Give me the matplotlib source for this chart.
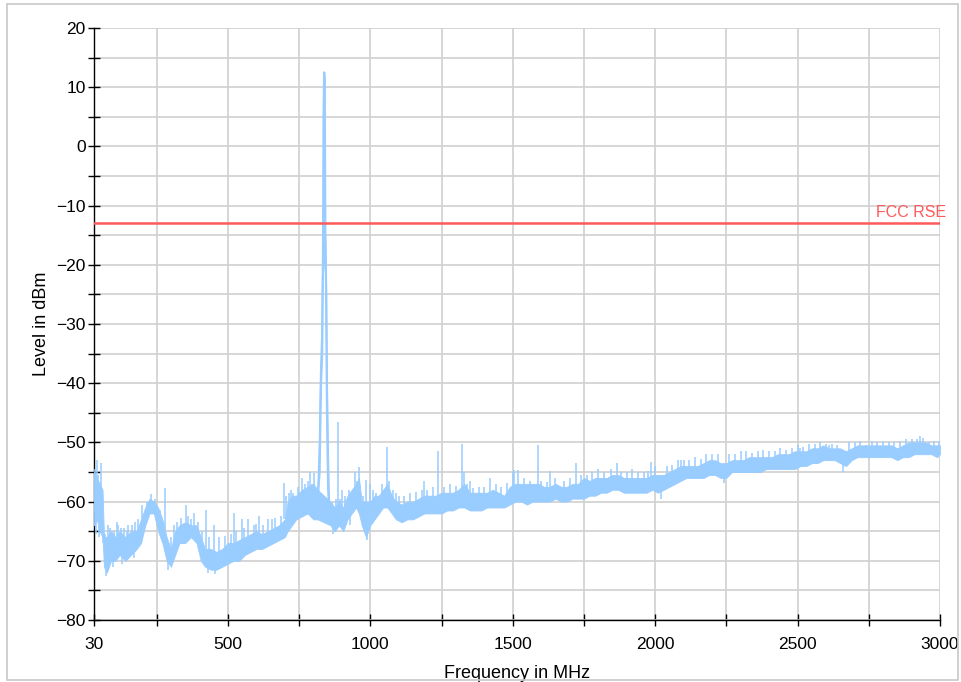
import matplotlib
matplotlib.use("Agg")
import matplotlib.pyplot as plt
from matplotlib.patches import Rectangle
from matplotlib.ticker import FixedLocator, MultipleLocator

plt.rcParams['font.family'] = ['Liberation Sans', 'DejaVu Sans']

# ---------------- data ----------------
# noise-floor band: frequency (MHz), lower and upper envelope (dBm)
band_freq = [30, 40, 50, 60, 65, 75, 90, 105, 120, 140, 160, 180, 195, 210, 225, 240,
             255, 270, 285, 300, 315, 330, 350, 370, 390, 405, 420, 440, 460, 480, 500,
             520, 540, 560, 580, 600, 620, 640, 660, 680, 700, 710, 725, 740, 760, 780,
             800, 815, 860, 875, 890, 905, 920, 935, 950, 960, 970, 985, 1000, 1015,
             1030, 1045, 1060, 1075, 1090, 1110, 1130, 1150, 1170, 1190, 1210, 1230,
             1250, 1270, 1290, 1310, 1330, 1350, 1370, 1390, 1410, 1430, 1450, 1470,
             1490, 1510, 1530, 1550, 1570, 1590, 1610, 1630, 1650, 1670, 1690, 1710,
             1730, 1750, 1770, 1790, 1810, 1830, 1850, 1870, 1890, 1910, 1930, 1950,
             1970, 1990, 2010, 2030, 2050, 2070, 2090, 2110, 2130, 2150, 2170, 2190,
             2210, 2230, 2250, 2270, 2290, 2310, 2330, 2350, 2370, 2390, 2410, 2430,
             2450, 2470, 2490, 2510, 2530, 2550, 2570, 2590, 2610, 2630, 2650, 2670,
             2690, 2710, 2730, 2750, 2770, 2790, 2810, 2830, 2850, 2870, 2890, 2910,
             2930, 2950, 2970, 2990, 3000]
band_low = [-64, -63, -65, -66, -71, -72, -70, -70, -69, -70, -69, -68, -67, -64, -62, -62,
            -65, -67, -70, -71, -69, -67, -67, -66, -67, -70, -71, -71.5, -71.5, -71, -70.5,
            -70, -70, -69, -68.5, -68, -68, -67.5, -67, -66.5, -66, -65, -64, -63, -62.5, -62,
            -63, -63, -64, -65, -64, -65, -63, -62, -61, -62, -64, -66, -64, -63,
            -62, -61, -61, -62, -63, -63.5, -63, -63, -62.5, -62, -62, -62,
            -62, -61.5, -61.5, -61, -61, -61.5, -61.5, -61.5, -61, -61, -61, -61,
            -60.5, -60, -60, -60.5, -60, -60, -60, -60, -59.5, -60, -60, -59.5,
            -59.5, -59.5, -59, -59, -58.5, -58.5, -58, -58, -58.5, -58.5, -58.5, -58.5,
            -58.5, -58, -58.5, -58, -57.5, -57, -56.5, -56, -56, -56, -56, -55.5,
            -55.5, -56, -56, -55, -55, -55, -55, -55, -55, -54.5, -54.5, -54.5,
            -54.5, -54.5, -54.5, -54, -54, -53.5, -53.5, -53, -53, -53, -53.5, -54,
            -53, -52.5, -52.5, -52.5, -52.5, -52.5, -52.5, -52.5, -53, -52.5, -52.5, -52,
            -52, -52, -52, -52.5, -52]
band_high = [-55, -56, -57, -58, -66, -66, -65, -66, -65, -66, -65, -65, -63, -61, -59.5, -60,
             -61, -63, -66, -68, -65, -64, -63.5, -64, -64, -66, -68, -68, -68.5, -68, -67,
             -67, -66.5, -66, -65.5, -65, -65.5, -65, -64.5, -64, -63, -60, -59, -59, -58, -57.5,
             -57, -58, -60, -61, -60, -61, -59, -58, -57, -56, -60, -60, -60, -59,
             -59, -58, -57, -59, -60, -60.5, -60, -60, -59.5, -59, -59, -59,
             -58.5, -58.5, -58.5, -58, -57, -58.5, -58.5, -58.5, -58.5, -58, -58.5, -59,
             -57.5, -57, -57, -57, -57, -57, -57.5, -57.5, -57, -57.5, -57.5, -57,
             -57, -56, -56.5, -56, -56, -56, -55.5, -55.5, -56, -56, -56, -56,
             -56, -55.5, -55.5, -55.5, -55, -54.5, -54, -54, -54, -54, -53.5, -53,
             -53, -53.5, -53.5, -53, -53, -53, -52.5, -52.5, -52.5, -52.5, -52.5, -52,
             -52, -52, -51.5, -51.5, -51.5, -51, -51, -50.5, -51, -51, -51, -51.5,
             -51, -50.5, -50.5, -50.5, -50.5, -50.5, -50.5, -50.5, -51, -50.5, -50, -50,
             -50, -50, -50.5, -50.5, -50.5]

# spurs and noise excursions: (frequency MHz, start dBm, end dBm)
spurs = [
    (33, -62, -54.5), (36, -60, -57), (38, -61, -65.5), (42, -60, -53), (45, -62, -55.5),
    (48, -63, -66), (52, -62, -57), (55, -60, -53.5), (58, -64, -59.5), (62, -64, -67),
    (68, -70, -65.5), (72, -70, -72.5), (80, -68, -64), (85, -68, -64.5), (95, -68, -71),
    (100, -69, -65), (110, -67, -63.5), (115, -68, -64), (125, -68, -64.5), (130, -68, -70.5),
    (135, -68, -64.5), (145, -68, -65), (150, -67, -64), (165, -67, -64), (170, -67, -69.5),
    (175, -66, -63.5), (185, -66, -63), (200, -63, -60.5), (215, -62, -60), (230, -61, -58.8),
    (245, -62, -59.5), (262, -64, -61.5), (279, -66, -57.7), (290, -69, -71.5), (300, -69, -66),
    (310, -68, -64), (320, -66, -63.5), (335, -66, -62.8), (352, -65, -60.5), (360, -65, -62.5),
    (370, -65, -63), (380, -65, -62), (395, -66, -63.5), (410, -69, -65), (422, -68, -61.5),
    (430, -70, -72), (435, -70, -66), (450, -69, -64), (455, -70, -72.2), (470, -70, -66),
    (490, -69, -65.8), (510, -69, -65.5), (522, -68, -62), (530, -68, -65), (548, -67, -63),
    (555, -67, -64.5), (570, -67, -62.9), (590, -67, -64), (600, -67, -63.8), (610, -66, -62.5),
    (625, -66, -64), (640, -66, -63), (655, -66, -63), (665, -66, -62.8), (685, -65, -62.5),
    (697, -63, -56.8), (705, -63, -59), (715, -63, -58.5), (720, -62, -58), (730, -62, -58.5),
    (745, -61, -57.5), (760, -60, -56), (770, -61, -57), (780, -61, -56.5), (790, -60, -55),
    (795, -61, -57), (803, -60, -55.2), (865, -63, -60), (870, -63, -65.5), (880, -63, -59.5),
    (885, -62, -46.5), (895, -63, -59.5), (900, -62, -58), (910, -63, -59), (925, -62, -58),
    (930, -62, -64), (945, -60, -55), (955, -60, -56.5), (962, -58, -54.2), (975, -62, -59),
    (985, -63, -56.3), (990, -63, -66.5), (1000, -61, -57), (1010, -62, -58), (1020, -62, -58.5),
    (1040, -60, -57), (1057, -59, -50.7), (1065, -60, -56.5), (1080, -61, -58), (1090, -61, -58.5),
    (1100, -62, -59), (1120, -62, -59), (1140, -62, -58.5), (1160, -61, -58.3), (1180, -61, -58),
    (1190, -61, -56.5), (1200, -61, -58), (1220, -61, -57.5), (1239, -60, -51.5), (1260, -60, -57.5),
    (1280, -60, -57), (1300, -60, -57.3), (1323, -58, -50.3), (1330, -58, -55), (1340, -60, -57),
    (1350, -60, -56.5), (1360, -59, -57.7), (1380, -60, -57.5), (1400, -60, -57.5), (1420, -59, -56),
    (1440, -60, -57), (1460, -60, -57.5), (1480, -59, -56.8), (1500, -58, -55), (1505, -58, -54.6),
    (1520, -58, -54.7), (1540, -59, -56), (1560, -59, -56.5), (1588, -58, -50.4), (1600, -59, -56.5),
    (1620, -59, -56.7), (1630, -58, -54.8), (1650, -58, -56), (1680, -58.5, -56.5), (1700, -58, -56),
    (1721, -58, -53.4), (1740, -58, -55.5), (1760, -58, -55.5), (1780, -57, -55), (1800, -57, -54.5),
    (1820, -57, -55), (1845, -57, -54.5), (1865, -56, -53.5), (1880, -57, -55), (1900, -57, -55),
    (1920, -57, -54.5), (1940, -57, -55), (1960, -57, -55), (1975, -57, -54.8), (1987, -57, -53.3),
    (1998, -57, -54), (2020, -57, -59.5), (2040, -56, -54), (2060, -56, -53.8), (2080, -55, -53),
    (2090, -55, -53), (2100, -55, -53), (2120, -55, -53), (2140, -55, -52.5), (2160, -55, -52.8),
    (2180, -54, -52), (2200, -54, -52), (2220, -54, -52), (2240, -55, -56.8), (2260, -54, -52),
    (2280, -54, -52), (2300, -54, -51.5), (2320, -54, -51.5), (2340, -54, -51.8), (2360, -54, -51.5),
    (2380, -53, -51.3), (2400, -53, -51.5), (2420, -53, -51.5), (2440, -53, -51), (2460, -53, -51.2),
    (2480, -53, -51), (2500, -53, -50.5), (2510, -53, -51), (2520, -53, -50.8), (2540, -52, -50.3),
    (2560, -52, -50.2), (2580, -52, -50), (2600, -52, -50.2), (2610, -52, -50.5), (2620, -52, -50.3),
    (2640, -52, -50.5), (2660, -53, -55), (2680, -52, -50), (2700, -52, -50), (2720, -52, -49.8),
    (2740, -52, -50.5), (2760, -52, -49.8), (2780, -52, -50), (2800, -52, -49.8), (2820, -52, -50),
    (2840, -52, -50), (2860, -52, -49.8), (2880, -51, -49.5), (2900, -51, -49.5), (2920, -51, -49.5),
    (2930, -51, -49), (2940, -51, -49.3), (2960, -51, -50), (2980, -51, -49.8), (2995, -51, -49.8),
]

# carrier: main trace and its side structure
peak_freq = [805, 815, 822, 827, 831, 834, 836, 838, 840, 842, 845, 848, 852, 858]
peak_level = [-62, -60, -55, -40, -35, -18, 5, 12.5, 11, -14, -25, -45, -58, -63]
skirt_freq = [815, 822, 826, 830, 833, 838, 842, 845, 848, 852, 857]
skirt_level = [-60, -50, -38, -32, -22, -20, -15, -22, -38, -52, -62]

limit_level = -13
limit_label = "FCC RSE"

x_major = [30, 500, 1000, 1500, 2000, 2500, 3000]
x_minor = [250, 750, 1250, 1750, 2250, 2750]

# ---------------- figure ----------------
W, H = 961, 682
fig = plt.figure(figsize=(W / 100, H / 100), dpi=100)
ax = fig.add_axes([94 / W, 1 - 620 / H, (940 - 94) / W, (620 - 28) / H])

trace = '#99ccff'
spur_freq = [s[0] for s in spurs]
spur_start = [s[1] for s in spurs]
spur_end = [s[2] for s in spurs]

ax.fill_between(band_freq, band_low, band_high, color=trace, lw=0.6, edgecolor=trace, zorder=3)
ax.vlines(spur_freq, spur_start, spur_end, color=trace, lw=1.1, zorder=3)
ax.plot(peak_freq, peak_level, color=trace, lw=1.6, zorder=3)
ax.plot(skirt_freq, skirt_level, color=trace, lw=1.2, zorder=3)

ax.axhline(limit_level, color='#ff5a5a', lw=1.8, zorder=4)
ax.text(1 + 6 / 846, limit_level + 0.5, limit_label, transform=ax.get_yaxis_transform(),
        ha='right', va='bottom', color='#ff5a5a', fontsize=11.5, zorder=5)

ax.set_xlim(30, 3000)
ax.set_ylim(-80, 20)
ax.xaxis.set_major_locator(FixedLocator(x_major))
ax.xaxis.set_minor_locator(FixedLocator(x_minor))
ax.yaxis.set_major_locator(MultipleLocator(10))
ax.yaxis.set_minor_locator(MultipleLocator(5))

ax.grid(True, which='both', color='#d0d0d0', lw=1.2, zorder=0)
ax.set_axisbelow(True)

for s in ['top', 'right']:
    ax.spines[s].set_visible(False)
for s in ['left', 'bottom']:
    ax.spines[s].set_color('black')
    ax.spines[s].set_linewidth(1.0)

ax.tick_params(which='both', direction='inout', length=8, width=1, color='black')
ax.tick_params(which='major', labelsize=12.5, pad=2)
ax.tick_params(axis='x', which='major', pad=8)

ax.set_xlabel('Frequency in MHz', fontsize=13)
ax.set_ylabel('Level in dBm', fontsize=13)
ax.xaxis.set_label_coords(0.5, -(665 - 620) / 592)
ax.yaxis.set_label_coords(-(94 - 50) / 846, 0.5)

fig.patches.append(Rectangle((7 / W, 1 - 680 / H), (958 - 7) / W, (680 - 4) / H,
                             transform=fig.transFigure, fill=False, edgecolor='#c8c8c8', lw=1.2))

fig.savefig('out.png', dpi=100)
